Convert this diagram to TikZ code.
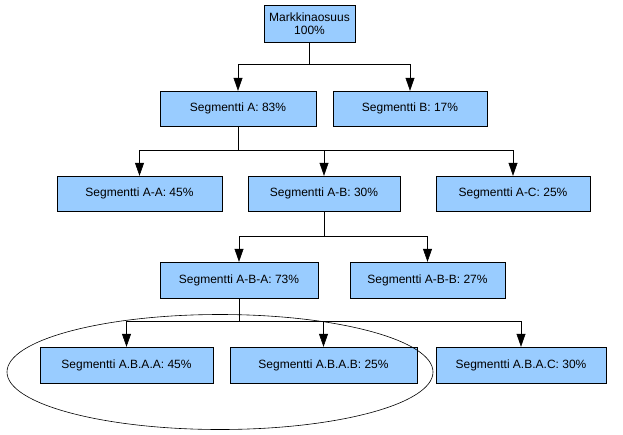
\documentclass[tikz,border=0pt]{standalone}
\usepackage{fontspec}
\setmainfont{Liberation Sans}
\usetikzlibrary{arrows.meta}
\begin{document}
\begin{tikzpicture}[x=1pt,y=-1pt,
  box/.style={draw=black,fill={rgb,255:red,153;green,204;blue,255},inner sep=0pt,font=\fontsize{12}{13}\selectfont,align=center},
  arr/.style={-{Triangle[width=9pt,length=13pt]},line width=0.6pt},
  ln/.style={line width=0.6pt}]
\useasboundingbox (0,0) rectangle (623,434);
\node[box,minimum width=91pt,minimum height=37pt] (m) at (309.5,23.5) {Markkinaosuus\\100\%};
\node[box,minimum width=156pt,minimum height=35pt] (a) at (238,108.5) {Segmentti A: 83\%};
\node[box,minimum width=154pt,minimum height=35pt] (b) at (410,108.5) {Segmentti B: 17\%};
\node[box,minimum width=165pt,minimum height=35pt] (aa) at (139.5,193.5) {Segmentti A-A: 45\%};
\node[box,minimum width=152pt,minimum height=35pt] (ab) at (324,193.5) {Segmentti A-B: 30\%};
\node[box,minimum width=154pt,minimum height=35pt] (ac) at (513,193.5) {Segmentti A-C: 25\%};
\node[box,minimum width=158pt,minimum height=36pt] (aba) at (239,280) {Segmentti A-B-A: 73\%};
\node[box,minimum width=155pt,minimum height=36pt] (abb) at (427.5,280) {Segmentti A-B-B: 27\%};
\node[box,minimum width=173pt,minimum height=36pt] (c1) at (126.5,365) {Segmentti A.B.A.A: 45\%};
\node[box,minimum width=187pt,minimum height=36pt] (c2) at (323.5,365) {Segmentti A.B.A.B: 25\%};
\node[box,minimum width=170pt,minimum height=36pt] (c3) at (521,365) {Segmentti A.B.A.C: 30\%};
\draw[ln] (220,372) ellipse [x radius=213, y radius=57.5];
% connectors
\coordinate (j1) at (309.5,64);
\draw[ln] (m.south) -- (j1);
\draw[arr] (j1) -| (a.north);
\draw[arr] (j1) -| (b.north);
\coordinate (j2) at (238,150);
\draw[ln] (a.south) -- (j2);
\draw[arr] (j2) -| (aa.north);
\draw[arr] (j2) -| (ab.north);
\draw[arr] (j2) -| (ac.north);
\coordinate (j3) at (324,236);
\draw[ln] (ab.south) -- (j3);
\draw[arr] (j3) -| (aba.north);
\draw[arr] (j3) -| (abb.north);
\coordinate (j4) at (239,321);
\draw[ln] (aba.south) -- (j4);
\draw[arr] (j4) -| (c1.north);
\draw[arr] (j4) -| (c2.north);
\draw[arr] (j4) -| (c3.north);
\end{tikzpicture}
\end{document}
